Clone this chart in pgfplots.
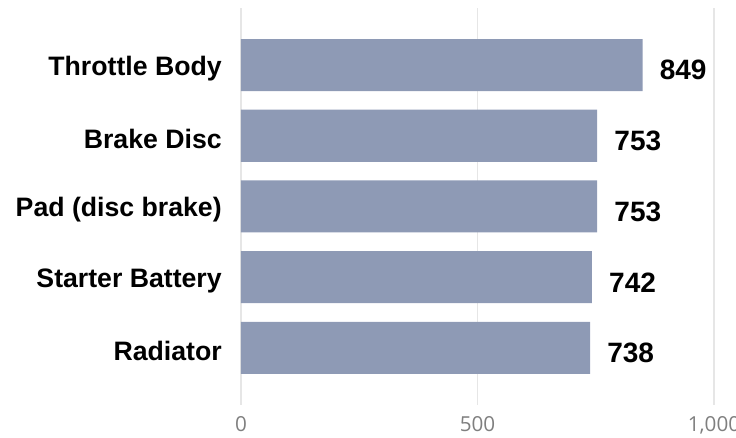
\documentclass[border=0pt]{standalone}
\usepackage{pgfplots}
\pgfplotsset{compat=1.18}
\usepackage{fontspec}
\setmainfont{Liberation Sans}
\newfontfamily\tickfont{Open Sans}
\definecolor{barcol}{HTML}{8E9AB5}
\definecolor{gridcol}{HTML}{E6E6E6}
\definecolor{tickcol}{HTML}{7F7F7F}
\begin{document}
\begin{tikzpicture}
\begin{axis}[
  scale only axis,
  width=354.75pt, height=297.75pt,
  xbar, bar width=39pt,
  xmin=0, xmax=1000,
  ymin=-0.806, ymax=4.806,
  axis line style={draw=none},
  major tick length=0pt,
  xtick={0,500,1000},
  xmajorgrids, grid style={gridcol, line width=0.8pt},
  /pgf/number format/1000 sep={,},
  /pgf/number format/assume math mode=true,
  xticklabel style={font=\tickfont\fontsize{15.5}{18}\selectfont, text=tickcol, anchor=north, inner sep=0pt, yshift=-8.6pt},
  ytick={0,1,2,3,4},
  yticklabels={Radiator, Starter Battery, Pad (disc brake), Brake Disc, Throttle Body},
  yticklabel style={font=\bfseries\fontsize{20}{24}\selectfont, anchor=east, inner sep=0pt, xshift=-14.25pt, yshift=-2.5pt},
  nodes near coords,
  point meta=x,
  nodes near coords style={font=\bfseries\fontsize{21}{25}\selectfont, anchor=west, inner sep=0pt, xshift=12.75pt, yshift=-3.75pt, /pgf/number format/fixed, /pgf/number format/precision=0},
]
\addplot[fill=barcol, draw=none] coordinates {(738,0) (742,1) (753,2) (753,3) (849,4)};
\coordinate (BL) at (rel axis cs:0,0);
\coordinate (TR) at (rel axis cs:1,1);
\end{axis}
\pgfresetboundingbox
\path ([xshift=-180.75pt, yshift=-24.75pt]BL) rectangle ([xshift=16.5pt, yshift=6pt]TR);
\end{tikzpicture}
\end{document}
